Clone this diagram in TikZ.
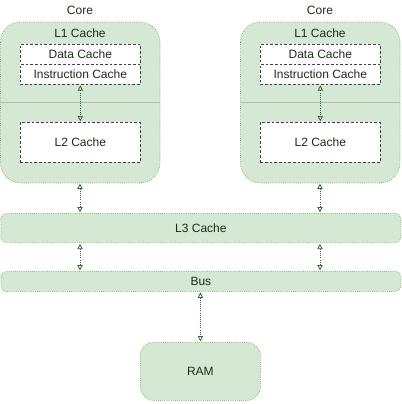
\documentclass[tikz,border=0pt]{standalone}
\usepackage{fontspec}
\setmainfont{Liberation Sans}
\usetikzlibrary{arrows.meta}
\definecolor{gfill}{HTML}{D5E8D4}
\definecolor{gline}{HTML}{82B366}
\definecolor{gtext}{HTML}{1A2E1A}
\definecolor{garrow}{HTML}{2D6A2D}
\definecolor{gdiv}{HTML}{A9BFA8}
\begin{document}
\begin{tikzpicture}[x=0.75pt,y=-0.75pt,
  every node/.style={font=\fontsize{9}{10.8}\selectfont, text=gtext, inner sep=0pt},
  corebox/.style={draw=gline, fill=gfill, densely dotted, line width=0.6pt, rounded corners=15pt},
  flatbox/.style={draw=gline, fill=gfill, densely dotted, line width=0.6pt, rounded corners=4pt},
  rambox/.style={draw=gline, fill=gfill, densely dotted, line width=0.6pt, rounded corners=10pt},
  cachebox/.style={draw=black!75, fill=white, dashed, dash pattern=on 2pt off 1.5pt, line width=0.5pt},
  link/.style={draw=garrow, densely dotted, line width=0.6pt, {Triangle[open,length=4pt,width=4pt]}-{Triangle[open,length=4pt,width=4pt]}, shorten >=0.5pt, shorten <=0.5pt}
]
\useasboundingbox (0,0) rectangle (402,404);

% cores
\foreach \cx/\nm in {0/a,240/b}{
  \begin{scope}[xshift=\cx*0.75pt]
  \path[corebox] (0.5,22) rectangle (160,183);
  \draw[gdiv, line width=0.5pt] (0.5,102) -- (160,102);
  \node (core\nm) at (80,10) {Core};
  \node (lone\nm) at (80,33) {L1 Cache};
  \node[cachebox, minimum width=90pt, minimum height=15pt, anchor=north west] (data\nm) at (20,44) {Data Cache};
  \node[cachebox, minimum width=90pt, minimum height=15pt, anchor=north west] (instr\nm) at (20,64) {Instruction Cache};
  \node[cachebox, minimum width=90pt, minimum height=30pt, anchor=north west] (ltwo\nm) at (20,122) {L2 Cache};
  \coordinate (cbot\nm) at (80,183);
  \end{scope}
}

\node[flatbox, minimum width=300pt, minimum height=22pt, anchor=north west] (lthree) at (0.5,213) {L3 Cache};
\node[flatbox, minimum width=300pt, minimum height=15pt, anchor=north west] (bus) at (0.5,271) {Bus};
\node[rambox, minimum width=90pt, minimum height=43.5pt, anchor=north west] (ram) at (140,342) {RAM};

% connectors
\foreach \nm in {a,b}{
  \draw[link] (instr\nm.south) -- (ltwo\nm.north);
}
\draw[link] (cbota) -- (lthree.north -| cbota);
\draw[link] (cbotb) -- (lthree.north -| cbotb);
\draw[link] (lthree.south -| cbota) -- (bus.north -| cbota);
\draw[link] (lthree.south -| cbotb) -- (bus.north -| cbotb);
\draw[link] (bus.south -| ram.north) -- (ram.north);
\end{tikzpicture}
\end{document}
